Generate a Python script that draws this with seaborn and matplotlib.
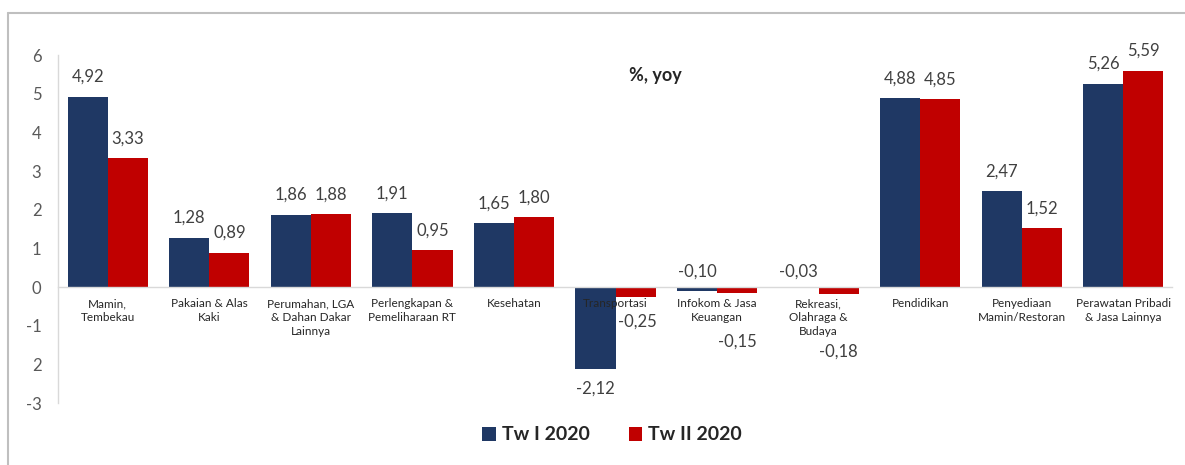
import matplotlib
matplotlib.use("Agg")
import matplotlib.pyplot as plt
import seaborn as sns
import pandas as pd
from matplotlib.patches import Patch
from matplotlib.lines import Line2D

categories = [
    "Mamin,\nTembekau",
    "Pakaian & Alas\nKaki",
    "Perumahan, LGA\n& Dahan Dakar\nLainnya",
    "Perlengkapan &\nPemeliharaan RT",
    "Kesehatan",
    "Transportasi",
    "Infokom & Jasa\nKeuangan",
    "Rekreasi,\nOlahraga &\nBudaya",
    "Pendidikan",
    "Penyediaan\nMamin/Restoran",
    "Perawatan Pribadi\n& Jasa Lainnya",
]
series_names = ["Tw I 2020", "Tw II 2020"]
tw1 = [4.92, 1.28, 1.86, 1.91, 1.65, -2.12, -0.10, -0.03, 4.88, 2.47, 5.26]
tw2 = [3.33, 0.89, 1.88, 0.95, 1.80, -0.25, -0.15, -0.18, 4.85, 1.52, 5.59]
ytick_values = [6, 5, 4, 3, 2, 1, 0, -1, -2, -3]
ytick_labels = ["6", "5", "4", "3", "2", "1", "0", "-1", "2", "-3"]
title_text = "%, yoy"

colors = ["#1F3864", "#C00000"]

df = pd.DataFrame({
    "cat": categories * 2,
    "series": [series_names[0]] * len(categories) + [series_names[1]] * len(categories),
    "value": tw1 + tw2,
})

sns.set_theme(style="white")
plt.rcParams["font.family"] = ["Lato", "DejaVu Sans"]

fig = plt.figure(figsize=(11.85, 4.65), dpi=100)
ax = fig.add_axes([58 / 1185, 1 - 403 / 465, (1172 - 58) / 1185, (403 - 55) / 465])

sns.barplot(data=df, x="cat", y="value", hue="series", palette=colors,
            order=categories, hue_order=series_names, width=0.79,
            saturation=1, ax=ax, legend=False, errorbar=None, linewidth=0)

ax.set_axisbelow(False)
ax.set_ylim(-3, 6)
ax.set_xlim(-0.49, 10.48)
ax.set_yticks(ytick_values)
ax.set_yticklabels(ytick_labels, fontsize=12, color="#595959")
ax.tick_params(axis="y", length=0, pad=12)
ax.set_xlabel("")
ax.set_ylabel("")

for s in ["top", "right"]:
    ax.spines[s].set_visible(False)
ax.spines["left"].set_color("#D9D9D9")
ax.spines["left"].set_linewidth(1)
ax.spines["bottom"].set_position(("data", 0))
ax.spines["bottom"].set_color("#D9D9D9")
ax.spines["bottom"].set_linewidth(1)
ax.tick_params(axis="x", length=0, pad=8)
for lbl in ax.get_xticklabels():
    lbl.set_fontsize(8.5)
    lbl.set_color("#262626")
    lbl.set_linespacing(1.3)
    lbl.set_verticalalignment("top")

# value labels (pixel offsets: layout only)
label_offsets = {
    (1, 5): (2, -35),
    (0, 6): (0, 15),
    (1, 6): (0, -55),
    (0, 7): (0, 15),
    (1, 7): (0, -65),
}
for si, cont in enumerate(ax.containers):
    vals = tw1 if si == 0 else tw2
    for ci, bar in enumerate(cont.patches):
        v = vals[ci]
        x = bar.get_x() + bar.get_width() / 2
        txt = f"{v:.2f}".replace(".", ",")
        if (si, ci) in label_offsets:
            dx, dy = label_offsets[(si, ci)]
            ax.annotate(txt, (x, 0), xytext=(dx, dy), textcoords="offset pixels",
                        ha="center", va="center", fontsize=12, color="#404040")
        elif v >= 0:
            ax.annotate(txt, (x, v), xytext=(0, 20), textcoords="offset pixels",
                        ha="center", va="center", fontsize=12, color="#404040")
        else:
            ax.annotate(txt, (x, v), xytext=(0, -20), textcoords="offset pixels",
                        ha="center", va="center", fontsize=12, color="#404040")

fig.text(655 / 1185, 1 - 76 / 465, title_text, ha="center", va="center",
         fontsize=13, fontweight="bold", color="#262626")

handles = [Patch(facecolor=c, edgecolor="none") for c in colors]
leg = fig.legend(handles, series_names, loc="center", bbox_to_anchor=(612 / 1185, 1 - 435 / 465),
                 ncol=2, frameon=False, prop={"weight": "bold", "size": 14},
                 handlelength=0.7, handleheight=0.7, handletextpad=0.3, columnspacing=2.0)
for t in leg.get_texts():
    t.set_color("#262626")

# frame: only top and left edges visible
fx = 8 / 1185
fy = 1 - 13 / 465
fig.lines.append(Line2D([fx, 1], [fy, fy], transform=fig.transFigure,
                        color="#BFBFBF", linewidth=1.5))
fig.lines.append(Line2D([fx, fx], [0, fy], transform=fig.transFigure,
                        color="#BFBFBF", linewidth=1.5))

fig.savefig("out.png", dpi=100)
